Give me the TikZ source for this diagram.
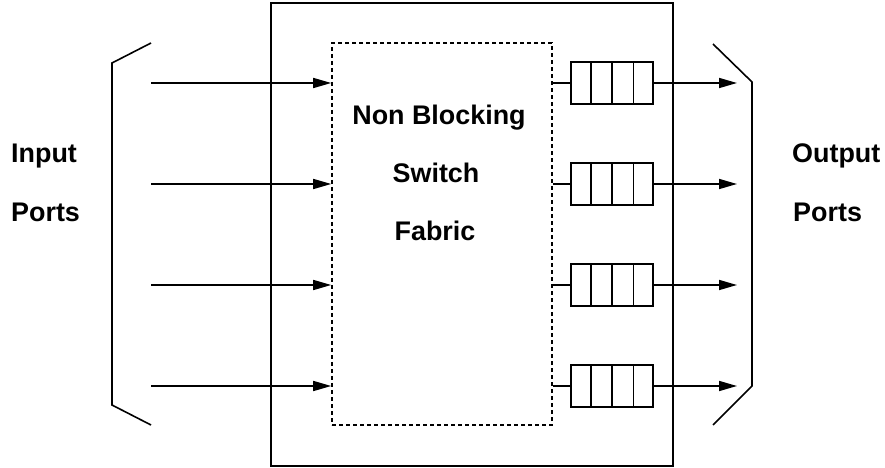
\documentclass[tikz,border=0pt]{standalone}
\usepackage{fontspec}
\setmainfont{Liberation Sans}
\usetikzlibrary{arrows.meta}
\begin{document}
\begin{tikzpicture}[x=1bp,y=-1bp,
  line/.style={line width=1.6bp},
  arr/.style={line width=1.6bp,-{Triangle[length=18bp,width=10bp]}},
  lbl/.style={font=\fontsize{27}{32}\selectfont\bfseries,inner sep=0pt},
  qbox/.style={draw,line width=1.6bp,minimum width=82bp,minimum height=42bp,inner sep=0pt}]
\useasboundingbox (0,0) rectangle (885,468);
% outer box and fabric
\node[draw,line width=1.6bp,minimum width=402bp,minimum height=463bp,inner sep=0pt] (outer) at (472,234.5) {};
\node[draw,line width=1.6bp,dash pattern=on 4bp off 3bp,minimum width=220bp,minimum height=382bp,inner sep=0pt] (fabric) at (442,234) {};
% brackets
\draw[line] (151,43) -- (112,63) -- (112,405) -- (151,425);
\draw[line] (713,44) -- (752,82) -- (752,386) -- (713,425);
% labels
\node[lbl,anchor=base] (t1) at (439,125) {Non Blocking};
\node[lbl,anchor=base] (t2) at (436,183) {Switch};
\node[lbl,anchor=base] (t3) at (435,241) {Fabric};
\node[lbl,anchor=base west] (in1) at (11,163) {Input};
\node[lbl,anchor=base west] (in2) at (11,222) {Ports};
\node[lbl,anchor=base west] (out1) at (792,163) {Output};
\node[lbl,anchor=base west] (out2) at (793,222) {Ports};
% rows
\foreach \i/\y in {1/83,2/184,3/285,4/386}{
  \coordinate (s\i) at (151,\y);
  \coordinate (f\i) at (fabric.west |- s\i);
  \coordinate (g\i) at (fabric.east |- s\i);
  \coordinate (e\i) at (737,\y);
  \node[qbox] (q\i) at (612,\y) {};
  \draw[line] ([xshift=20.5bp]q\i.north west) -- ([xshift=20.5bp]q\i.south west);
  \draw[line] (q\i.north) -- (q\i.south);
  \draw[line] ([xshift=-20.5bp]q\i.north east) -- ([xshift=-20.5bp]q\i.south east);
  \draw[arr] (s\i) -- (f\i);
  \draw[line] (g\i) -- (q\i.west);
  \draw[arr] (q\i.east) -- (e\i);
}
\end{tikzpicture}
\end{document}
